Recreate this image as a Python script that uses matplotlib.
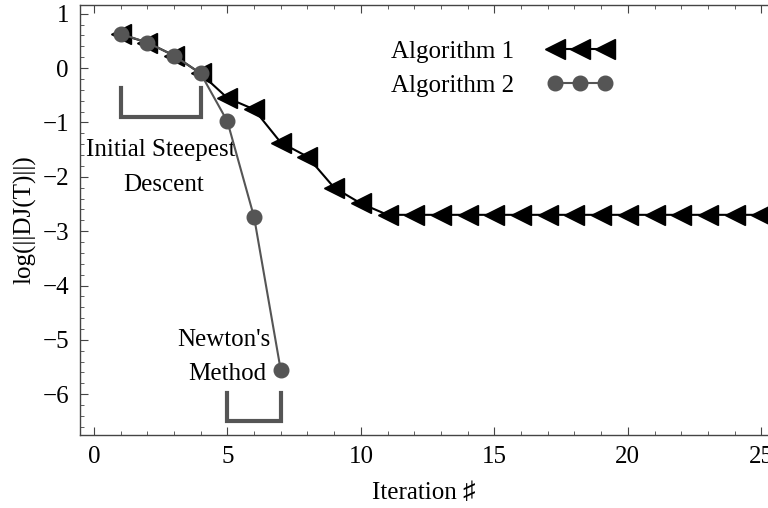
import matplotlib.pyplot as plt
import numpy as np
from matplotlib.ticker import MultipleLocator

plt.rcParams['font.family'] = ['Liberation Serif', 'DejaVu Serif']

# log of gradient norm per iteration
iters1 = np.arange(1, 26)
alg1 = [0.62, 0.47, 0.23, -0.10, -0.55, -0.76, -1.37, -1.63, -2.20, -2.49,
        -2.70, -2.70, -2.70, -2.70, -2.70, -2.70, -2.70, -2.70, -2.70, -2.70,
        -2.70, -2.70, -2.70, -2.70, -2.70]
iters2 = np.arange(1, 8)
alg2 = [0.63, 0.47, 0.23, -0.10, -0.98, -2.74, -5.56]

gray = "#555555"

fig = plt.figure(figsize=(7.68, 5.08), dpi=100)
ax = fig.add_axes([80 / 768, 1 - 435 / 508, 1 - 80 / 768, 430 / 508])

ax.plot(iters1, alg1, color="black", lw=1.5, marker="<", ms=14,
        mfc="black", mec="black", label="Algorithm 1", zorder=3)
ax.plot(iters2, alg2, color=gray, lw=1.5, marker="o", ms=10.5,
        mfc=gray, mec=gray, label="Algorithm 2", zorder=4)

# brackets marking the two phases
ax.plot([1, 1, 4, 4], [-0.37, -0.9, -0.9, -0.37], color=gray, lw=3,
        solid_joinstyle="miter", zorder=2)
ax.plot([5, 5, 7, 7], [-5.97, -6.5, -6.5, -5.97], color=gray, lw=3,
        solid_joinstyle="miter", zorder=2)

ax.text(2.5, -1.5, "Initial Steepest", ha="center", va="center", fontsize=18)
ax.text(2.6, -2.15, "Descent", ha="center", va="center", fontsize=18)
ax.text(4.87, -5.0, "Newton's", ha="center", va="center", fontsize=18)
ax.text(5.0, -5.62, "Method", ha="center", va="center", fontsize=18)

ax.set_xlim(-0.52, 25.25)
ax.set_ylim(-6.75, 1.16)
ax.xaxis.set_major_locator(MultipleLocator(5))
ax.xaxis.set_minor_locator(MultipleLocator(1))
ax.yaxis.set_major_locator(MultipleLocator(1))
ax.yaxis.set_minor_locator(MultipleLocator(0.2))
ax.tick_params(which="both", direction="in", top=True, right=False,
               labelsize=18, color="#444444", pad=8)
ax.tick_params(which="major", length=6, width=0.8)
ax.tick_params(which="minor", length=3, width=0.6)
ax.set_yticks(np.arange(-6, 2))
ax.set_yticklabels(["\u22126", "\u22125", "\u22124", "\u22123", "\u22122", "\u22121", "0", "1"])
for s in ["left", "bottom", "top"]:
    ax.spines[s].set_color("#444444")
    ax.spines[s].set_linewidth(1.0)
ax.spines["right"].set_visible(False)

ax.set_xlabel("Iteration \u266f", fontsize=18, labelpad=10)
ax.set_ylabel("log(||DJ(T)||)", fontsize=18, labelpad=4)

ax.legend(loc="upper left", bbox_to_anchor=(0.42, 0.97), frameon=False,
          fontsize=18, markerfirst=False, handlelength=2.6,
          handletextpad=1.3, labelspacing=0.45, numpoints=3)

plt.savefig("out.png", dpi=100)
